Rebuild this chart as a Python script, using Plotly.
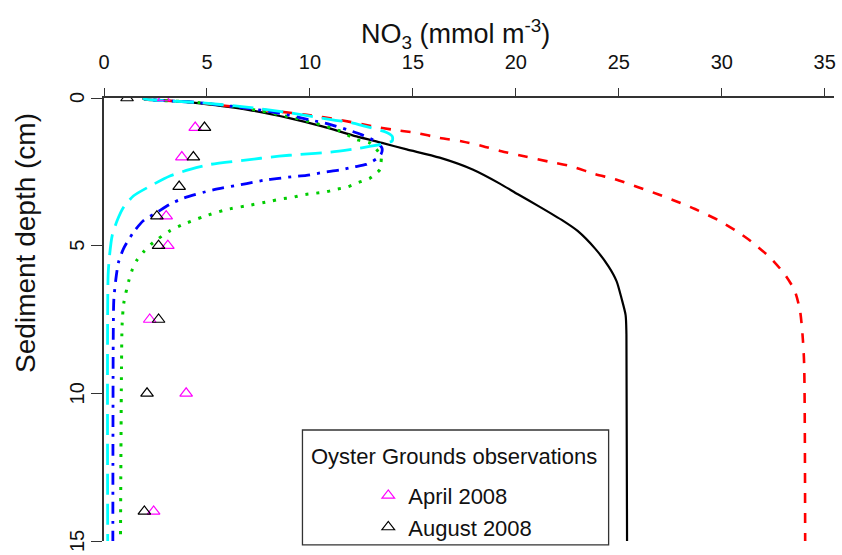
import plotly.graph_objects as go

# Modelled NO3 profiles (depth in cm, concentration in mmol m-3)
black_depth = [0, 0.04, 0.12, 0.18, 0.4, 0.68, 0.96, 1.3, 1.52, 1.74, 2.02, 2.42, 2.89, 3.26,
               3.66, 4.16, 4.5, 5.1, 5.7, 6.2, 6.78, 7.35, 8.0, 15]
black_no3 = [1.9, 2.0, 3.85, 4.67, 7.0, 9.0, 10.6, 12.26, 13.5, 14.7, 16.3, 17.9, 19.2, 20.1,
             21.1, 22.3, 23.0, 23.85, 24.5, 24.89, 25.13, 25.33, 25.37, 25.4]

red_depth = [0, 0.04, 0.12, 0.17, 0.35, 0.46, 0.57, 0.75, 0.96, 1.07, 1.18, 1.35, 1.47, 1.63,
             1.8, 1.98, 2.15, 2.31, 2.58, 2.75, 3.02, 3.26, 3.52, 3.76, 4.13, 4.5, 4.87, 5.44,
             6.01, 6.54, 7.2, 8.0, 9.0, 15]
red_no3 = [1.9, 2.0, 3.9, 4.7, 7.0, 8.5, 9.84, 11.5, 13.05, 14.0, 15.15, 16.3, 17.4, 18.4,
           19.3, 20.46, 21.57, 22.69, 23.85, 24.82, 25.94, 26.9, 27.87, 28.7, 29.81, 30.7,
           31.45, 32.4, 33.1, 33.55, 33.8, 33.92, 34.0, 34.05]

green_depth = [0, 0.04, 0.15, 0.35, 0.74, 1.1, 1.41, 1.52, 1.8, 1.97, 2.2, 2.42, 2.62, 2.72,
               2.86, 3.01, 3.09, 3.18, 3.23, 3.28, 3.37, 3.42, 3.5, 3.65, 3.79, 4.02, 4.3,
               4.49, 4.88, 5.21, 5.49, 5.8, 6.2, 6.95, 7.67, 9.1, 15]
green_no3 = [1.9, 2.0, 4.5, 6.9, 9.65, 11.4, 12.26, 12.9, 13.3, 13.46, 13.45, 13.4, 13.1, 12.9,
             12.36, 11.83, 11.28, 10.76, 10.2, 9.65, 9.12, 8.6, 8.05, 6.93, 5.88, 4.82, 3.78,
             3.22, 2.41, 1.92, 1.6, 1.38, 1.2, 0.96, 0.88, 0.85, 0.8]

blue_depth = [0, 0.04, 0.15, 0.35, 0.5, 0.74, 0.9, 1.07, 1.24, 1.47, 1.7, 1.91, 2.05, 2.14,
              2.25, 2.34, 2.44, 2.52, 2.62, 2.67, 2.73, 2.78, 2.9, 3.11, 3.39, 3.59, 3.87,
              4.15, 4.54, 5.1, 5.55, 6.0, 6.8, 8.0, 15]
blue_no3 = [1.9, 2.0, 4.5, 7.0, 8.4, 10.0, 11.0, 11.8, 12.5, 13.2, 13.5, 13.45, 13.25, 13.05,
            12.73, 12.08, 11.45, 10.64, 9.83, 9.1, 8.38, 7.8, 6.93, 5.3, 3.86, 3.22, 2.57,
            1.92, 1.44, 0.95, 0.71, 0.6, 0.48, 0.45, 0.43]

cyan_depth = [0, 0.04, 0.15, 0.3, 0.5, 0.74, 0.83, 0.96, 1.16, 1.3, 1.45, 1.55, 1.64, 1.71,
              1.83, 1.91, 1.97, 2.11, 2.25, 2.42, 2.64, 2.98, 3.31, 3.7, 4.15, 4.65, 5.33,
              6.0, 15]
cyan_no3 = [1.9, 2.0, 4.5, 6.8, 9.0, 11.1, 12.0, 12.7, 13.7, 14.0, 14.0, 13.6, 12.9, 12.3,
            11.0, 9.5, 8.5, 6.76, 5.15, 4.18, 3.2, 2.25, 1.44, 0.95, 0.64, 0.4, 0.27, 0.2, 0.18]

# Oyster Grounds observations
april_depth = [0, 1, 2, 4, 5, 7.5, 10, 14]
april_no3 = [2.9, 4.43, 3.78, 3.02, 3.1, 2.22, 3.99, 2.41]
august_depth = [0, 1, 2, 3, 4, 5, 7.5, 10, 14]
august_no3 = [1.12, 4.88, 4.34, 3.65, 2.57, 2.65, 2.65, 2.09, 1.96]

x_ticks = [0, 5, 10, 15, 20, 25, 30, 35]
y_ticks = [0, 5, 10, 15]

FONT = "Liberation Sans Narrow, Arial Narrow, Liberation Sans, Arial, sans-serif"
LEG_FONT = "Liberation Sans, Arial, sans-serif"

profiles = [
    (black_depth, black_no3, "#000000", "solid", 2.2),
    (red_depth, red_no3, "#FF0000", "10px,10px", 2.6),
    (green_depth, green_no3, "#00CD00", "3px,8px", 3),
    (blue_depth, blue_no3, "#0000FF", "3px,7px,12px,7px", 2.8),
    (cyan_depth, cyan_no3, "#00FFFF", "21px,9px", 2.8),
]

fig = go.Figure()
for depth, no3, color, dash, width in profiles:
    fig.add_trace(go.Scatter(x=no3, y=depth, mode="lines", showlegend=False,
                             line=dict(color=color, dash=dash, width=width,
                                       shape="spline", smoothing=0.7),
                             hoverinfo="skip"))

fig.add_trace(go.Scatter(x=april_no3, y=april_depth, mode="markers", name="April 2008",
                         marker=dict(symbol="triangle-up-open", size=11, color="#FF00FF",
                                     line=dict(width=1.2, color="#FF00FF"))))
fig.add_trace(go.Scatter(x=august_no3, y=august_depth, mode="markers", name="August 2008",
                         marker=dict(symbol="triangle-up-open", size=11, color="#000000",
                                     line=dict(width=1.2, color="#000000"))))

L, R, T, B = 104, 6, 98, 10
W, H = 842, 555
pw, ph = W - L - R, H - T - B

def px_x(x):
    return (x - L) / pw

def px_y(y):
    return (H - B - y) / ph

# Depth tick labels, written parallel to the axis at each tick value
depth_labels = [
    dict(text=str(v), x=px_x(77), y=v, xref="paper", yref="y", showarrow=False,
         textangle=-90, xanchor="center", yanchor="middle",
         font=dict(size=20, family=FONT, color="#111111"))
    for v in y_ticks
]

fig.update_layout(
    width=W, height=H,
    margin=dict(l=L, r=R, t=T, b=B),
    paper_bgcolor="white", plot_bgcolor="white",
    font=dict(family=FONT, color="#111111"),
    xaxis=dict(range=[0, 35.45], side="top", tickvals=x_ticks, ticks="outside",
               ticklen=8, tickwidth=1.3, tickcolor="#333333", showline=True,
               linecolor="#333333", linewidth=1.5, showgrid=False, zeroline=False,
               tickfont=dict(size=20, family=FONT), ticklabelstandoff=11),
    yaxis=dict(range=[15, 0], tickvals=y_ticks, ticks="outside", ticklen=11,
               tickwidth=1.3, tickcolor="#333333", showline=True, linecolor="#333333",
               linewidth=1.5, showgrid=False, zeroline=False, showticklabels=False),
    legend=dict(x=px_x(369), y=px_y(478), xanchor="left", yanchor="top",
                bgcolor="rgba(0,0,0,0)", borderwidth=0,
                font=dict(size=22, family=LEG_FONT, color="#111111"),
                itemclick=False, tracegroupgap=0),
    shapes=[
        dict(type="rect", xref="paper", yref="paper", x0=px_x(303), x1=px_x(610),
             y0=px_y(549), y1=px_y(433), line=dict(color="#333333", width=1.3),
             fillcolor="rgba(255,255,255,0)", layer="below"),
    ],
    annotations=depth_labels + [
        dict(text="NO<sub>3</sub> (mmol m<sup>-3</sup>)", x=px_x(456), y=px_y(33),
             xref="paper", yref="paper", showarrow=False, xanchor="center",
             yanchor="middle", font=dict(size=27, family=FONT, color="#111111")),
        dict(text="Sediment depth (cm)", x=px_x(25), y=px_y(244), xref="paper",
             yref="paper", showarrow=False, textangle=-90, xanchor="center",
             yanchor="middle", font=dict(size=28, family=LEG_FONT, color="#111111")),
        dict(text="Oyster Grounds observations", x=px_x(455), y=px_y(460),
             xref="paper", yref="paper", showarrow=False, xanchor="center",
             yanchor="middle", font=dict(size=22, family=LEG_FONT, color="#111111")),
    ],
)

fig.write_html("out.html")
